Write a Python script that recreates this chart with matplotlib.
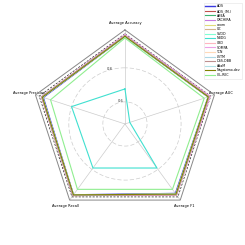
import numpy as np
import matplotlib
matplotlib.use("Agg")
import matplotlib.pyplot as plt

metrics = ["Average Accuracy", "Average Precision", "Average Recall", "Average F1", "Average AUC"]

methods = ["ADS", "ADS_(M.)", "ABEA", "ORCHIRA", "anom", "OC", "SVDD", "NBDG", "CBD",
           "SOMPA", "TCN", "LSTM", "DSS-DBB", "AdaM", "Nagatomo-dev", "CIL-REC"]

colors = ["#3a3ae0", "#c0504d", "#3cb371", "#c77ae0", "#e0dc78", "#d2b48c", "#7fffd4",
          "#40e0d0", "#ffb6c1", "#eea0e6", "#ffdab9", "#add8e6", "#bc8f8f", "#b0e0e6",
          "#808000", "#90ee90"]

values = [
    [0.985, 0.975, 0.985, 0.975, 0.985],
    [0.99, 0.985, 0.99, 0.985, 0.99],
    [0.985, 0.98, 0.985, 0.98, 0.985],
    [0.99, 0.98, 0.985, 0.98, 0.995],
    [0.985, 0.98, 0.985, 0.98, 0.99],
    [0.99, 0.985, 0.99, 0.985, 0.99],
    [0.985, 0.98, 0.985, 0.98, 0.985],
    [0.676, 0.80, 0.79, 0.79, 0.50],
    [0.99, 0.985, 0.99, 0.985, 0.995],
    [0.995, 0.985, 0.99, 0.985, 0.995],
    [0.985, 0.98, 0.985, 0.98, 0.985],
    [0.985, 0.98, 0.985, 0.98, 0.985],
    [0.99, 0.985, 0.99, 0.985, 0.99],
    [0.985, 0.98, 0.985, 0.98, 0.985],
    [0.985, 0.98, 0.985, 0.98, 0.985],
    [0.975, 0.93, 0.945, 0.945, 0.96],
]

rticks = [0.6, 0.8]
rmin, rmax = 0.47, 1.023

fig = plt.figure(figsize=(2.45, 2.45), dpi=100)
ax = fig.add_axes([0.126, 0.11, 0.768, 0.768], projection="polar")
ax.set_theta_offset(np.pi / 2)

n = len(metrics)
angles = np.linspace(0, 2 * np.pi, n, endpoint=False)
closed = np.concatenate([angles, angles[:1]])

ax.set_ylim(rmin, rmax)
ax.spines["polar"].set_visible(False)
ax.set_rgrids(rticks, labels=[str(t) for t in rticks], angle=19, fontsize=2.6, color="#333333")
ax.yaxis.grid(True, color="#cccccc", linestyle=(0, (6, 3)), linewidth=0.5)
ax.xaxis.grid(True, color="#cccccc", linestyle="-", linewidth=0.5)
ax.set_xticks(angles)
ax.set_xticklabels(metrics, fontsize=2.6)
ax.tick_params(axis="x", pad=-5.5)

# polygon frame
ax.plot(closed, [rmax] * (n + 1), color="#888888", linewidth=0.7, clip_on=False)
ax.plot(closed, [1.0] * (n + 1), color="#222222", linewidth=0.5, linestyle=(0, (3, 2)), clip_on=False)

for name, col, vals in zip(methods, colors, values):
    v = list(vals) + [vals[0]]
    lw = 1.0 if name == "ADS" else 0.8
    ax.plot(closed, v, color=col, linewidth=lw, label=name)

leg = fig.legend(loc="upper right", bbox_to_anchor=(0.995, 0.995), fontsize=2.3,
                 frameon=True, handlelength=3.0, labelspacing=0.18, borderpad=0.5,
                 handletextpad=0.6, fancybox=False, edgecolor="#dddddd")
leg.get_frame().set_linewidth(0.4)

fig.savefig("out.png", dpi=100)
